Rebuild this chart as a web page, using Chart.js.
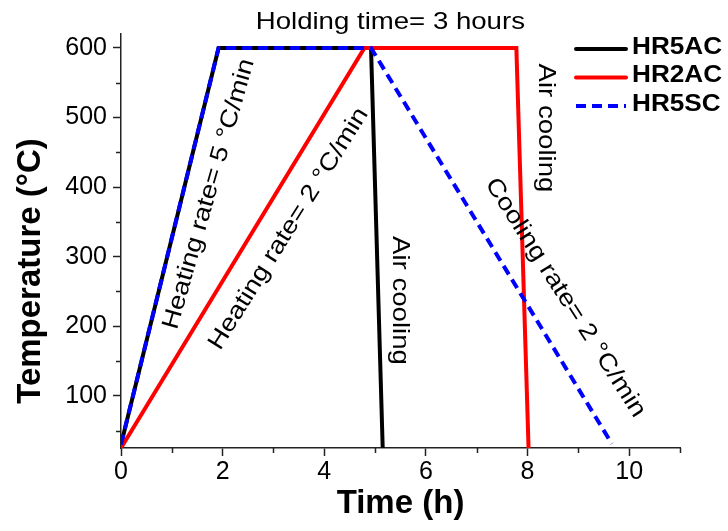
<!DOCTYPE html>
<html><head><meta charset="utf-8">
<script src="https://cdn.jsdelivr.net/npm/chart.js@4/dist/chart.umd.min.js"></script>
<style>html,body{margin:0;padding:0;background:#fff}#wrap{width:728px;height:531px}</style>
</head><body><div id="wrap"><canvas id="c" width="728" height="531"></canvas></div>
<script>
// ---- data ----
const seriesNames = ['HR5AC', 'HR2AC', 'HR5SC'];
const timeHR5AC = [0, 1.92, 4.92, 5.15];
const tempHR5AC = [30, 600, 600, 25];
const timeHR2AC = [0, 4.79, 7.78, 8.02];
const tempHR2AC = [25, 600, 600, 25];
const timeHR5SC = [0, 1.92, 4.92, 9.66];
const tempHR5SC = [30, 600, 600, 31];
const xTickValues = [0, 1, 2, 3, 4, 5, 6, 7, 8, 9, 10, 11];
const xTickLabels = ['0', '', '2', '', '4', '', '6', '', '8', '', '10', ''];
const yTickValues = [50, 100, 150, 200, 250, 300, 350, 400, 450, 500, 550, 600];
const yTickLabels = ['', '100', '', '200', '', '300', '', '400', '', '500', '', '600'];
const xTitle = 'Time (h)';
const yTitle = 'Temperature (\u00B0C)';
// annotations: text, anchor in data coords, rotation (deg)
const noteTexts = ['Holding time= 3 hours', 'Heating rate= 5 \u00B0C/min', 'Heating rate= 2 \u00B0C/min', 'Air cooling', 'Air cooling', 'Cooling rate= 2 \u00B0C/min'];
const noteX = [5.3, 1.73, 3.3, 5.49, 8.35, 8.74];
const noteY = [637, 390, 340, 237, 485, 241];
const noteAngle = [0, -74, -58, 90, 90, 57.5];

const pts = (xs, ys) => xs.map((x, i) => ({x: x, y: ys[i]}));

const FONT = "'Liberation Sans', Arial, sans-serif";

const minorTicks = {
  id: 'minorTicks',
  afterDraw(chart) {
    const ctx = chart.ctx;
    ctx.save();
    ctx.strokeStyle = '#222';
    ctx.lineWidth = 1.5;
    const xs = chart.scales.x, ys = chart.scales.y;
    xs.ticks.forEach((t, i) => {
      if (xTickLabels[i] === '') {
        const p = Math.round(xs.getPixelForValue(t.value)) + 0.5;
        ctx.beginPath(); ctx.moveTo(p, xs.top); ctx.lineTo(p, xs.top + 5); ctx.stroke();
      }
    });
    ys.ticks.forEach((t, i) => {
      if (yTickLabels[i] === '') {
        const p = Math.round(ys.getPixelForValue(t.value)) + 0.5;
        ctx.beginPath(); ctx.moveTo(ys.right, p); ctx.lineTo(ys.right - 5, p); ctx.stroke();
      }
    });
    ctx.restore();
  }
};

const notes = {
  id: 'notes',
  afterDatasetsDraw(chart) {
    const ctx = chart.ctx;
    const xs = chart.scales.x, ys = chart.scales.y;
    ctx.save();
    ctx.fillStyle = '#000';
    ctx.font = '24px ' + FONT;
    ctx.textAlign = 'center';
    ctx.textBaseline = 'middle';
    noteTexts.forEach((t, i) => {
      ctx.save();
      ctx.translate(xs.getPixelForValue(noteX[i]), ys.getPixelForValue(noteY[i]));
      ctx.rotate(noteAngle[i] * Math.PI / 180);
      ctx.scale(1.15, 1);
      ctx.fillText(t, 0, 0);
      ctx.restore();
    });
    // y axis title (centred lower than the plot middle, as in the reference)
    ctx.save();
    ctx.font = 'bold 33px ' + FONT;
    ctx.translate(31, 271);
    ctx.rotate(-Math.PI / 2);
    ctx.fillText(yTitle, 0, 0);
    ctx.restore();
    ctx.restore();
  }
};

const legendBox = {
  id: 'legendBox',
  afterDraw(chart) {
    const ctx = chart.ctx;
    ctx.save();
    chart.data.datasets.forEach((ds, i) => {
      const y = 47 + i * 28.5;
      ctx.save();
      ctx.strokeStyle = ds.borderColor;
      ctx.lineWidth = 4;
      ctx.lineCap = ds.borderDash ? 'butt' : 'round';
      ctx.setLineDash(ds.borderDash || []);
      ctx.beginPath(); ctx.moveTo(576, y + 2); ctx.lineTo(626, y + 2); ctx.stroke();
      ctx.restore();
      ctx.save();
      ctx.fillStyle = '#000';
      ctx.font = 'bold 24px ' + FONT;
      ctx.textBaseline = 'middle';
      ctx.translate(632, y);
      ctx.scale(1.09, 1);
      ctx.fillText(ds.label, 0, 0);
      ctx.restore();
    });
    ctx.restore();
  }
};

new Chart(document.getElementById('c'), {
  type: 'scatter',
  data: {
    datasets: [
      {label: seriesNames[0], data: pts(timeHR5AC, tempHR5AC), showLine: true, borderColor: '#000000', backgroundColor: '#000000', borderWidth: 4, pointRadius: 0, order: 3},
      {label: seriesNames[1], data: pts(timeHR2AC, tempHR2AC), showLine: true, borderColor: '#ff0000', backgroundColor: '#ff0000', borderWidth: 4, pointRadius: 0, order: 2},
      {label: seriesNames[2], data: pts(timeHR5SC, tempHR5SC), showLine: true, borderColor: '#0000ff', backgroundColor: '#0000ff', borderWidth: 4, borderDash: [10, 6], pointRadius: 0, order: 1}
    ]
  },
  options: {
    responsive: false,
    animation: false,
    devicePixelRatio: 1,
    layout: {padding: {top: 34, right: 48, left: 0, bottom: 0}},
    plugins: {legend: {display: false}, tooltip: {enabled: false}},
    scales: {
      x: {
        type: 'linear', min: 0, max: 11,
        afterBuildTicks: s => { s.ticks = xTickValues.map(v => ({value: v})); },
        afterFit: s => { s.height = 83; },
        ticks: {
          autoSkip: false, maxRotation: 0, padding: 1, color: '#000',
          font: {family: FONT, size: 25},
          callback: (v, i) => xTickLabels[i]
        },
        grid: {drawOnChartArea: false, drawTicks: true, tickLength: 8, tickWidth: 1.5,
          tickColor: c => (c.index !== undefined && xTickLabels[c.index] !== '') ? '#222' : 'rgba(0,0,0,0)'},
        border: {display: true, color: '#222', width: 1.5},
        title: {display: true, text: xTitle, color: '#000', font: {family: FONT, size: 33, weight: 'bold'}, padding: {top: 0, bottom: 7}}
      },
      y: {
        type: 'linear', min: 25, max: 620,
        afterBuildTicks: s => { s.ticks = yTickValues.map(v => ({value: v})); },
        afterFit: s => { s.width = 121; },
        ticks: {
          autoSkip: false, padding: 6, color: '#000',
          font: {family: FONT, size: 25},
          callback: (v, i) => yTickLabels[i]
        },
        grid: {drawOnChartArea: false, drawTicks: true, tickLength: 8, tickWidth: 1.5,
          tickColor: c => (c.index !== undefined && yTickLabels[c.index] !== '') ? '#222' : 'rgba(0,0,0,0)'},
        border: {display: true, color: '#222', width: 1.5},
        title: {display: false, text: yTitle}
      }
    }
  },
  plugins: [minorTicks, notes, legendBox]
});
</script>
</body></html>
